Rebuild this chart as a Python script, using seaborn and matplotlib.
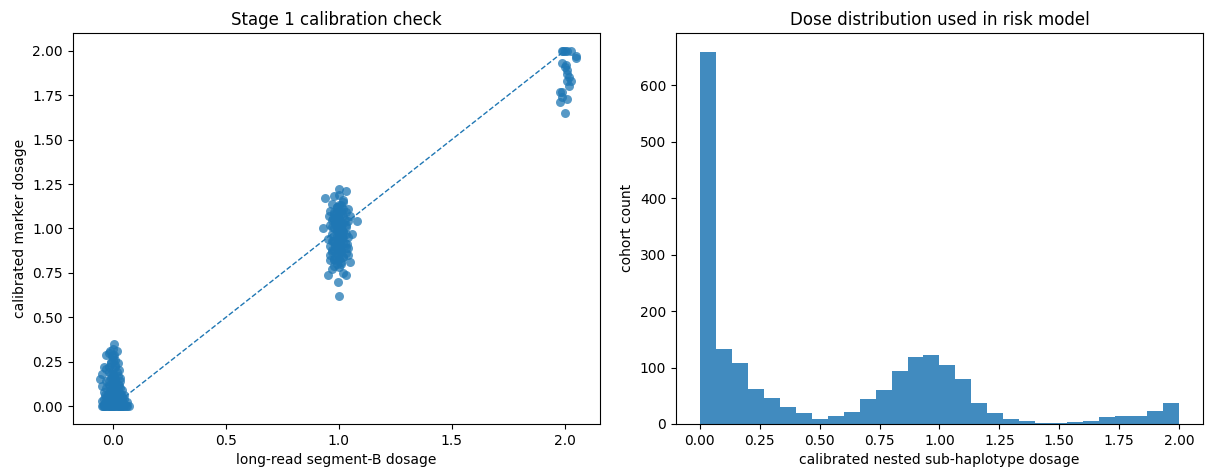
import numpy as np
import pandas as pd
import matplotlib
matplotlib.use("Agg")
import matplotlib.pyplot as plt
import seaborn as sns

# scatter: long-read dosage vs calibrated marker dosage
zero_x = [-0.05, -0.04, -0.03, -0.02, -0.01, 0.0, 0.01, 0.02, 0.03, 0.04, 0.05, 0.06, 0.07,
          -0.045, -0.025, -0.015, 0.005, 0.015, 0.025, 0.035, 0.045, -0.035, -0.005, 0.055,
          0.005, -0.03, -0.015, 0.0, 0.015, -0.02, 0.0, 0.01, -0.01, 0.02, -0.04, -0.03, 0.01,
          0.025, -0.02, -0.05, -0.06, -0.05, 0.03, 0.03, 0.0, -0.01, 0.01, -0.03, 0.02, -0.02,
          0.0, 0.04, -0.04, 0.01, -0.01, 0.03, 0.05, -0.03, 0.0, 0.02, -0.05, 0.04, -0.02,
          0.01, 0.06, -0.04, 0.03, 0.0, -0.015, 0.015]
zero_y = [0, 0, 0, 0, 0, 0, 0, 0, 0, 0, 0, 0, 0,
          0, 0, 0, 0, 0, 0, 0, 0, 0, 0, 0,
          0.35, 0.29, 0.31, 0.32, 0.31, 0.30, 0.28, 0.26, 0.25, 0.24, 0.22, 0.21, 0.22,
          0.20, 0.19, 0.18, 0.15, 0.11, 0.14, 0.16, 0.18, 0.16, 0.15, 0.14, 0.12, 0.12,
          0.11, 0.09, 0.08, 0.09, 0.07, 0.07, 0.06, 0.05, 0.05, 0.04, 0.03, 0.03, 0.02,
          0.02, 0.02, 0.01, 0.01, 0.13, 0.09, 0.06]
# dense core of the zero cluster
zero_core_x = [-0.03, -0.02, -0.01, 0.0, 0.01, 0.02, 0.03, -0.025, -0.005, 0.015, 0.035,
               -0.03, -0.015, 0.005, 0.02, 0.04, -0.02, 0.0, 0.01, 0.025, -0.01, 0.005,
               0.015, -0.02, 0.0, 0.02, -0.01, 0.01, 0.0, -0.005, 0.005, 0.045, -0.035,
               0.05, -0.04, 0.03, 0.01, -0.015, 0.02, 0.0]
zero_core_y = [0.03, 0.04, 0.02, 0.03, 0.04, 0.02, 0.04, 0.07, 0.08, 0.06, 0.06,
               0.10, 0.11, 0.10, 0.09, 0.05, 0.14, 0.15, 0.13, 0.12, 0.18, 0.17,
               0.19, 0.22, 0.21, 0.17, 0.24, 0.23, 0.26, 0.28, 0.29, 0.02, 0.06,
               0.04, 0.04, 0.10, 0.07, 0.01, 0.01, 0.09]

one_x = [1.00, 0.995, 0.95, 1.03, 1.02, 0.97, 1.0, 0.99, 1.01, 1.05, 0.98, 1.02, 0.96, 1.0,
         1.03, 0.97, 1.01, 0.99, 1.04, 0.96, 1.0, 1.02, 0.98, 1.01, 0.95, 1.04, 0.99, 1.06,
         0.97, 1.02, 1.0, 0.93, 0.98, 1.03, 0.96, 1.01, 0.99, 1.08, 1.04, 0.97, 1.0, 1.02,
         0.98, 1.03, 0.96, 1.01, 0.99, 1.04, 0.97, 1.02, 0.94, 0.98, 1.0, 1.03, 1.0, 1.02,
         0.99, 1.01, 0.98, 1.0, 1.01, 0.99, 1.02, 0.97, 1.03, 0.98, 1.04, 0.96, 1.0, 1.0,
         0.99, 1.01, 1.05, 0.955, 1.035]
one_y = [0.62, 0.70, 0.74, 0.74, 0.75, 0.77, 0.78, 0.80, 0.81, 0.81, 0.83, 0.84, 0.85, 0.86,
         0.86, 0.87, 0.88, 0.89, 0.89, 0.90, 0.91, 0.92, 0.93, 0.94, 0.94, 0.95, 0.96, 0.97,
         0.97, 0.98, 0.99, 1.00, 1.00, 1.01, 1.02, 1.02, 1.03, 1.04, 1.04, 1.05, 1.06, 1.07,
         1.08, 1.09, 1.10, 1.10, 1.12, 1.11, 1.14, 1.15, 1.17, 1.18, 1.19, 1.21, 1.22, 1.16,
         1.06, 0.96, 0.88, 0.83, 1.00, 0.92, 1.03, 0.93, 0.97, 0.79, 0.85, 0.82, 1.13, 0.95,
         1.01, 0.90, 1.07, 1.07, 0.91]
# dense core of the one cluster
one_core_x = [0.98, 1.0, 1.02, 0.99, 1.01, 0.97, 1.03, 0.985, 1.005, 1.025, 0.975, 0.995,
              1.015, 0.98, 1.0, 1.02, 0.99, 1.01, 0.97, 1.03, 0.985, 1.005, 1.025, 0.975,
              0.995, 1.015, 0.98, 1.0, 1.02, 0.99, 1.01, 0.985, 1.005, 0.995, 1.015, 1.0,
              0.98, 1.02, 0.99, 1.01]
one_core_y = [0.82, 0.83, 0.84, 0.86, 0.87, 0.88, 0.89, 0.90, 0.91, 0.92, 0.93, 0.94,
              0.95, 0.96, 0.97, 0.98, 0.99, 1.00, 1.01, 1.02, 1.03, 1.04, 1.05, 1.06,
              1.07, 1.08, 1.09, 1.10, 1.11, 1.12, 1.13, 0.84, 0.88, 0.92, 0.99, 1.03,
              1.05, 0.95, 1.09, 0.80]

two_x = [1.99, 2.0, 2.01, 2.03, 2.05, 2.05, 1.99, 2.0, 2.01, 2.01, 2.02, 2.01, 2.03, 2.02,
         1.98, 1.99, 1.99, 1.98, 2.01, 2.0, 1.995, 2.005]
two_y = [2.0, 2.0, 2.0, 2.0, 1.97, 1.96, 1.93, 1.91, 1.89, 1.87, 1.85, 1.83, 1.83, 1.80,
         1.77, 1.77, 1.74, 1.71, 1.73, 1.65, 2.0, 1.92]

segment_b = zero_x + zero_core_x + one_x + one_core_x + two_x
marker = zero_y + zero_core_y + one_y + one_core_y + two_y

# histogram: 30 equal bins over [0, 2]
hist_counts = [660, 133, 108, 62, 46, 30, 20, 9, 14, 21, 45, 60, 93, 118, 122,
               104, 80, 37, 19, 8, 5, 2, 1, 3, 5, 12, 14, 14, 23, 37]
hist_edges = np.linspace(0, 2, len(hist_counts) + 1)
hist_df = pd.DataFrame({
    "dose": (hist_edges[:-1] + hist_edges[1:]) / 2,
    "count": hist_counts,
})

fig, (ax1, ax2) = plt.subplots(1, 2, figsize=(12.09, 4.7), dpi=100)
fig.subplots_adjust(left=0.06, right=0.995, top=0.93, bottom=0.098, wspace=0.145)

ax1.plot([0, 2], [0, 2], linestyle="--", color="C0", linewidth=1, zorder=1)
sns.scatterplot(x=segment_b, y=marker, ax=ax1, color="C0", alpha=0.75,
                s=42, linewidth=0, zorder=2)
ax1.set_xlim(-0.18, 2.155)
ax1.set_ylim(-0.101, 2.101)
ax1.set_title("Stage 1 calibration check")
ax1.set_xlabel("long-read segment-B dosage")
ax1.set_ylabel("calibrated marker dosage")

sns.histplot(data=hist_df, x="dose", weights="count", bins=list(hist_edges), ax=ax2,
             color="C0", alpha=0.85, linewidth=0)
ax2.set_title("Dose distribution used in risk model")
ax2.set_xlabel("calibrated nested sub-haplotype dosage")
ax2.set_ylabel("cohort count")

fig.savefig("out.png", dpi=100)
